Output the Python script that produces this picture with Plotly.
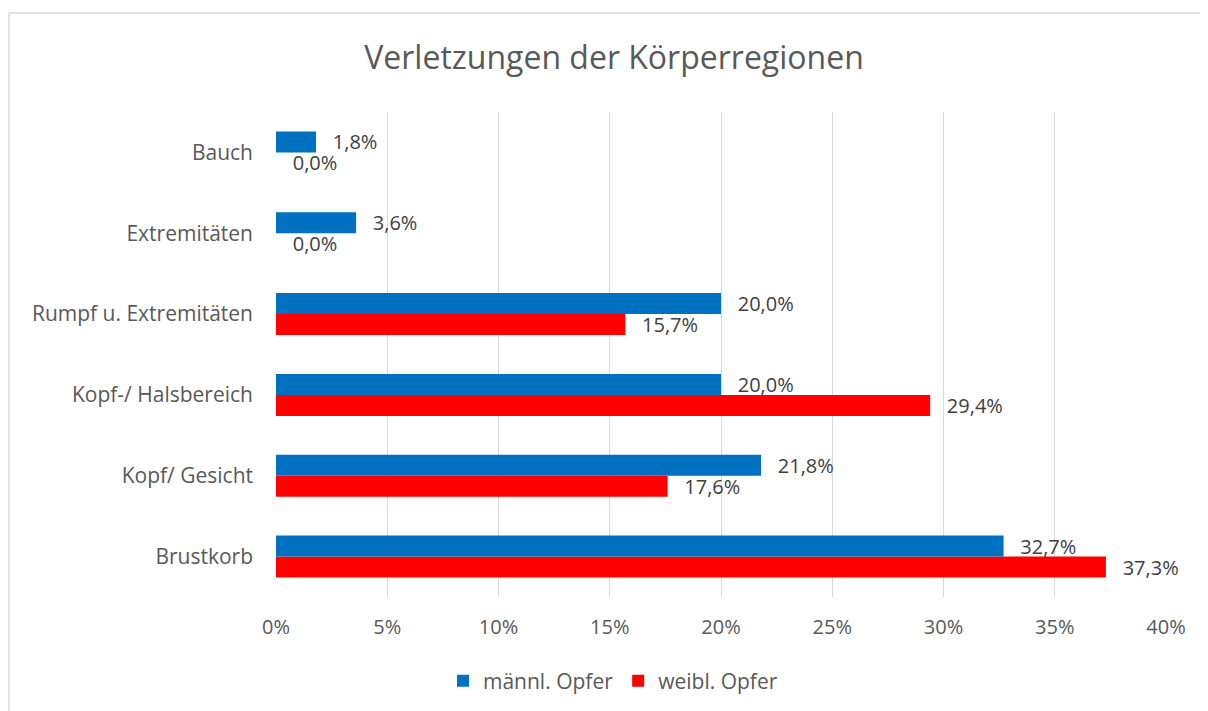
import plotly.graph_objects as go

categories = ["Brustkorb", "Kopf/ Gesicht", "Kopf-/ Halsbereich", "Rumpf u. Extremitäten", "Extremitäten", "Bauch"]
maennl = [32.7, 21.8, 20.0, 20.0, 3.6, 1.8]
weibl = [37.3, 17.6, 29.4, 15.7, 0.0, 0.0]
x_ticks = [0, 5, 10, 15, 20, 25, 30, 35, 40]
x_tick_labels = [f"{v}%" for v in x_ticks]

FONT = "Open Sans"

def fmt(v):
    return "\u00a0\u00a0\u2009" + f"{v:.1f}".replace(".", ",") + "%"

fig = go.Figure()
fig.add_trace(go.Bar(
    y=categories, x=weibl, orientation="h", name="weibl. Opfer",
    marker=dict(color="#FF0000", line=dict(width=0)),
    text=[fmt(v) for v in weibl], textposition="outside", constraintext="none",
    textfont=dict(family=FONT, size=20, color="#404040"),
    cliponaxis=False, legendrank=2,
))
fig.add_trace(go.Bar(
    y=categories, x=maennl, orientation="h", name="männl. Opfer",
    marker=dict(color="#0070C0", line=dict(width=0)),
    text=[fmt(v) for v in maennl], textposition="outside", constraintext="none",
    textfont=dict(family=FONT, size=20, color="#404040"),
    cliponaxis=False, legendrank=1,
))

# page body has an 8px margin: reference pixel p -> figure pixel p - 8
OFF = 8
W, H = 1208 - OFF, 711 - OFF
L, T = 276 - OFF, 112 - OFF
R = W - (1166 - OFF)
B = H - (597 - OFF)
pw, ph = W - L - R, H - T - B

def px_x(p):
    return (p - OFF - L) / pw

def px_y(p):
    return (H - B - (p - OFF)) / ph

border = dict(color="#D9D9D9", width=1.5)

fig.update_layout(
    width=W, height=H,
    margin=dict(l=L, r=R, t=T, b=B, autoexpand=False),
    paper_bgcolor="white", plot_bgcolor="white",
    barmode="group", bargap=0.48, bargroupgap=0,
    font=dict(family=FONT, size=20, color="#595959"),
    title=dict(text="Verletzungen der Körperregionen", x=(614 - OFF) / W, xref="container",
               y=1 - (58 - OFF) / H, yref="container", xanchor="center", yanchor="middle",
               font=dict(family=FONT, size=32, color="#595959")),
    xaxis=dict(range=[0, 40], tickvals=x_ticks, ticktext=x_tick_labels,
               showgrid=True, gridcolor="#D9D9D9", gridwidth=1.3,
               zeroline=False, showline=False, ticks="", ticklabelstandoff=16,
               tickfont=dict(family=FONT, size=20, color="#595959"), fixedrange=True),
    yaxis=dict(categoryorder="array", categoryarray=categories,
               showgrid=False, zeroline=False, showline=False, ticks="",
               ticklabelstandoff=22,
               tickfont=dict(family=FONT, size=21, color="#595959"), fixedrange=True),
    legend=dict(orientation="h", xref="container", yref="container",
                x=(613 - OFF) / W, y=1 - (681 - OFF) / H, xanchor="center", yanchor="middle",
                font=dict(family=FONT, size=21, color="#595959"),
                itemwidth=30, tracegroupgap=0),
    showlegend=True,
    shapes=[
        dict(type="line", xref="paper", yref="paper",
             x0=px_x(9), x1=px_x(1230), y0=px_y(13), y1=px_y(13), line=border, layer="below"),
        dict(type="line", xref="paper", yref="paper",
             x0=px_x(9), x1=px_x(9), y0=px_y(13), y1=px_y(740), line=border, layer="below"),
    ],
)

fig.write_html("out.html")
